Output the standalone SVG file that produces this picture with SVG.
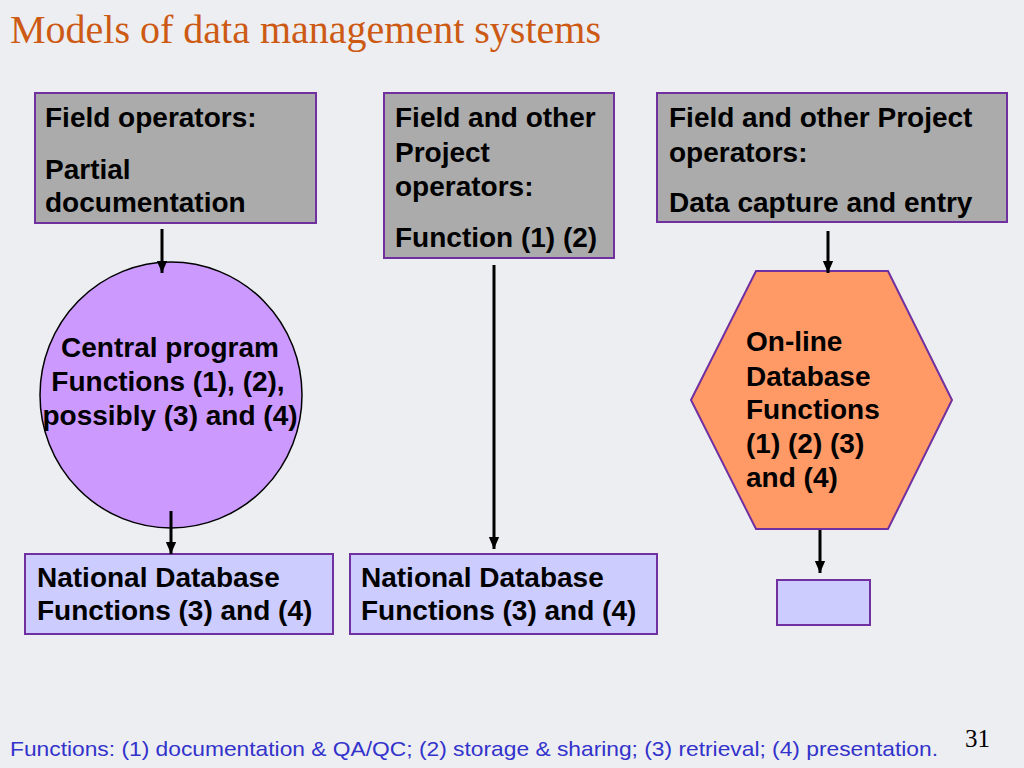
<svg xmlns="http://www.w3.org/2000/svg" width="1024" height="768" viewBox="0 0 1024 768">
<defs>
<marker id="ah" markerWidth="12" markerHeight="14" refX="14" refY="6" orient="auto" markerUnits="userSpaceOnUse" viewBox="0 0 14 12">
<path d="M0,0 L14,6 L0,12 Z" fill="#000"/>
</marker>
<style>
.t{font-family:"Liberation Sans",Arial,sans-serif;font-weight:bold;font-size:28px;fill:#000}
.gray{fill:#ABABAB;stroke:#7030A0;stroke-width:2}
.lav{fill:#CCCCFF;stroke:#7030A0;stroke-width:2}
.conn{stroke:#000;stroke-width:3;fill:none;marker-end:url(#ah)}
</style>
</defs>
<rect x="0" y="0" width="1024" height="768" fill="#EDEEF1"/>
<text x="10" y="43" font-family="Liberation Serif,Times New Roman,serif" font-size="40" fill="#CC5A14">Models of data management systems</text>

<g id="box-field-operators">
<rect class="gray" x="35" y="93" width="281" height="130"/>
<text class="t" x="45" y="127">Field operators:</text>
<text class="t" x="45" y="179">Partial</text>
<text class="t" x="45" y="212">documentation</text>
</g>

<g id="box-field-other">
<rect class="gray" x="384" y="93" width="230" height="165"/>
<text class="t" x="395" y="127">Field and other</text>
<text class="t" x="395" y="162">Project</text>
<text class="t" x="395" y="196">operators:</text>
<text class="t" x="395" y="247">Function (1) (2)</text>
</g>

<g id="box-data-capture">
<rect class="gray" x="657" y="93" width="350" height="129"/>
<text class="t" x="669" y="127">Field and other Project</text>
<text class="t" x="669" y="162">operators:</text>
<text class="t" x="669" y="212">Data capture and entry</text>
</g>

<g id="circle-central">
<ellipse cx="171" cy="395" rx="131" ry="133" fill="#CC99FF" stroke="#000" stroke-width="1.5"/>
<text class="t" x="170" y="357" text-anchor="middle">Central program</text>
<text class="t" x="168" y="391" text-anchor="middle">Functions (1), (2),</text>
<text class="t" x="170" y="425" text-anchor="middle">possibly (3) and (4)</text>
</g>

<g id="hex-online">
<polygon points="756,271 888,271 952,400 888,529 756,529 691,400" fill="#FF9966" stroke="#7030A0" stroke-width="2"/>
<text class="t" x="746" y="351">On-line</text>
<text class="t" x="746" y="386">Database</text>
<text class="t" x="746" y="419">Functions</text>
<text class="t" x="746" y="453">(1) (2) (3)</text>
<text class="t" x="746" y="487">and (4)</text>
</g>

<g id="box-national-1">
<rect class="lav" x="25" y="554" width="308" height="80"/>
<text class="t" x="37" y="587">National Database</text>
<text class="t" x="37" y="620">Functions (3) and (4)</text>
</g>

<g id="box-national-2">
<rect class="lav" x="350" y="554" width="307" height="80"/>
<text class="t" x="361" y="587">National Database</text>
<text class="t" x="361" y="620">Functions (3) and (4)</text>
</g>

<g id="box-empty">
<rect class="lav" x="777" y="580" width="93" height="45"/>
</g>

<g id="connectors">
<line class="conn" x1="162" y1="229" x2="162" y2="273"/>
<line class="conn" x1="171" y1="511" x2="171" y2="554"/>
<line class="conn" x1="494" y1="265" x2="494" y2="549"/>
<line class="conn" x1="828" y1="231" x2="828" y2="273"/>
<line class="conn" x1="820" y1="530" x2="820" y2="573"/>
</g>

<text x="10" y="756" font-family="Liberation Sans,Arial,sans-serif" font-size="21" fill="#3333CC" textLength="928" lengthAdjust="spacingAndGlyphs">Functions: (1) documentation &amp; QA/QC; (2) storage &amp; sharing; (3) retrieval; (4) presentation.</text>
<text x="965" y="747" font-family="Liberation Serif,Times New Roman,serif" font-size="25" fill="#000">31</text>
</svg>
